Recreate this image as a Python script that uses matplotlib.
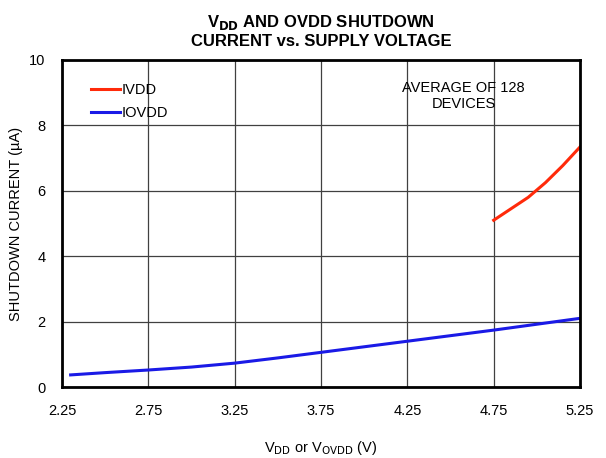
import matplotlib.pyplot as plt

# data
iovdd_v = [2.30, 2.50, 2.75, 3.00, 3.25, 3.50, 3.75, 4.00, 4.25, 4.50, 4.75, 5.00, 5.25]
iovdd_i = [0.37, 0.44, 0.52, 0.61, 0.73, 0.89, 1.06, 1.23, 1.40, 1.57, 1.74, 1.92, 2.10]
ivdd_v = [4.75, 4.85, 4.95, 5.05, 5.15, 5.25]
ivdd_i = [5.10, 5.45, 5.80, 6.25, 6.77, 7.34]
x_ticks = [2.25, 2.75, 3.25, 3.75, 4.25, 4.75, 5.25]
y_ticks = [0, 2, 4, 6, 8, 10]

plt.rcParams['font.family'] = ['Liberation Sans', 'DejaVu Sans']

fig = plt.figure(figsize=(6.06, 4.58), dpi=100)
ax = fig.add_axes([0.1023, 0.155, 0.8548, 0.714])

ax.plot(ivdd_v, ivdd_i, color='#ff2a0a', lw=2.2, label='IVDD')
ax.plot(iovdd_v, iovdd_i, color='#1a1ae6', lw=2.2, label='IOVDD')

ax.set_xlim(2.25, 5.25)
ax.set_ylim(0, 10)
ax.set_xticks(x_ticks)
ax.set_xticklabels([f'{t:.2f}' for t in x_ticks])
ax.set_yticks(y_ticks)
ax.tick_params(length=0, labelsize=10.5, pad=12)
ax.grid(True, color='#404040', lw=0.9)
ax.set_axisbelow(True)
for s in ax.spines.values():
    s.set_linewidth(2)
    s.set_color('black')

ax.set_title(r'V$_{\mathbf{DD}}$ AND OVDD SHUTDOWN' + '\nCURRENT vs. SUPPLY VOLTAGE',
             fontsize=12, fontweight='bold', linespacing=1.2, pad=10)
ax.set_xlabel(r'V$_{\mathrm{DD}}$ or V$_{\mathrm{OVDD}}$ (V)', fontsize=10.5, labelpad=15)
ax.set_ylabel('SHUTDOWN CURRENT (µA)', fontsize=10.5, labelpad=4)

ax.text(0.775, 0.935, 'AVERAGE OF 128\nDEVICES', transform=ax.transAxes,
        ha='center', va='top', fontsize=10.5, linespacing=1.2)

ax.legend(loc='upper left', bbox_to_anchor=(0.03, 0.97), frameon=False,
          fontsize=10.5, handlelength=2.0, handletextpad=0.15, labelspacing=0.6)

fig.savefig('out.png', dpi=100)
